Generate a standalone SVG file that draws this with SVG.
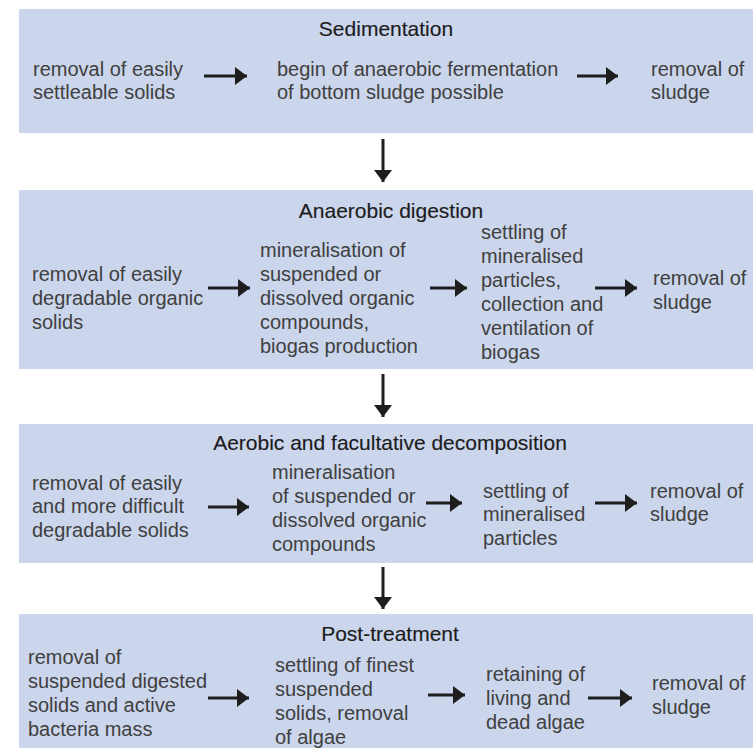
<svg xmlns="http://www.w3.org/2000/svg" width="753" height="748" viewBox="0 0 753 748">
<style>
.box{fill:#cbd6ec}
text{font-family:"Liberation Sans",Arial,sans-serif;font-size:20px;fill:#404040}
.t{font-size:21px;fill:#1c1c1c;stroke:#1c1c1c;stroke-width:0.15;text-anchor:middle}
.c{stroke:#1e1e1e;stroke-width:3;fill:none}
</style>
<defs>
<marker id="ah" viewBox="0 0 12 18" refX="12" refY="9" markerWidth="12" markerHeight="18" markerUnits="userSpaceOnUse" orient="auto">
<path d="M0,0 L12,9 L0,18 Z" fill="#1e1e1e"/>
</marker>
</defs>
<g id="sedimentation">
<rect class="box" x="19" y="9" width="734" height="124"/>
<text class="t" x="386" y="36">Sedimentation</text>
<text x="33" y="76">removal of easily</text>
<text x="33" y="99">settleable solids</text>
<text x="277" y="76">begin of anaerobic fermentation</text>
<text x="277" y="99">of bottom sludge possible</text>
<text x="651" y="76">removal of</text>
<text x="651" y="99">sludge</text>
</g>
<g id="anaerobic">
<rect class="box" x="19" y="190" width="734" height="179"/>
<text class="t" x="391" y="218">Anaerobic digestion</text>
<text x="32" y="281">removal of easily</text>
<text x="32" y="305">degradable organic</text>
<text x="32" y="329">solids</text>
<text x="260" y="257">mineralisation of</text>
<text x="260" y="281">suspended or</text>
<text x="260" y="305">dissolved organic</text>
<text x="260" y="329">compounds,</text>
<text x="260" y="353">biogas production</text>
<text x="481" y="239">settling of</text>
<text x="481" y="263">mineralised</text>
<text x="481" y="287">particles,</text>
<text x="481" y="311">collection and</text>
<text x="481" y="335">ventilation of</text>
<text x="481" y="359">biogas</text>
<text x="653" y="285">removal of</text>
<text x="653" y="309">sludge</text>
</g>
<g id="aerobic">
<rect class="box" x="19" y="424" width="734" height="139"/>
<text class="t" x="390" y="450">Aerobic and facultative decomposition</text>
<text x="32" y="490">removal of easily</text>
<text x="32" y="513">and more difficult</text>
<text x="32" y="537">degradable solids</text>
<text x="272" y="479">mineralisation</text>
<text x="272" y="503">of suspended or</text>
<text x="272" y="527">dissolved organic</text>
<text x="272" y="551">compounds</text>
<text x="483" y="498">settling of</text>
<text x="483" y="521">mineralised</text>
<text x="483" y="545">particles</text>
<text x="650" y="498">removal of</text>
<text x="650" y="521">sludge</text>
</g>
<g id="post-treatment">
<rect class="box" x="19" y="614" width="734" height="134"/>
<text class="t" x="390" y="641">Post-treatment</text>
<text x="28" y="664">removal of</text>
<text x="28" y="688">suspended digested</text>
<text x="28" y="712">solids and active</text>
<text x="28" y="736">bacteria mass</text>
<text x="275" y="672">settling of finest</text>
<text x="275" y="696">suspended</text>
<text x="275" y="720">solids, removal</text>
<text x="275" y="744">of algae</text>
<text x="486" y="681">retaining of</text>
<text x="486" y="705">living and</text>
<text x="486" y="729">dead algae</text>
<text x="652" y="690">removal of</text>
<text x="652" y="714">sludge</text>
</g>
<g id="connectors">
<line class="c" x1="204" y1="76" x2="247" y2="76" marker-end="url(#ah)"/>
<line class="c" x1="577" y1="76" x2="618" y2="76" marker-end="url(#ah)"/>
<line class="c" x1="383" y1="139" x2="383" y2="182" marker-end="url(#ah)"/>
<line class="c" x1="208" y1="288" x2="250" y2="288" marker-end="url(#ah)"/>
<line class="c" x1="430" y1="288" x2="467" y2="288" marker-end="url(#ah)"/>
<line class="c" x1="595" y1="288" x2="637" y2="288" marker-end="url(#ah)"/>
<line class="c" x1="383" y1="374" x2="383" y2="417" marker-end="url(#ah)"/>
<line class="c" x1="208" y1="507" x2="249" y2="507" marker-end="url(#ah)"/>
<line class="c" x1="426" y1="503" x2="462" y2="503" marker-end="url(#ah)"/>
<line class="c" x1="595" y1="503" x2="637" y2="503" marker-end="url(#ah)"/>
<line class="c" x1="383" y1="567" x2="383" y2="609" marker-end="url(#ah)"/>
<line class="c" x1="208" y1="698" x2="249" y2="698" marker-end="url(#ah)"/>
<line class="c" x1="428" y1="695" x2="465" y2="695" marker-end="url(#ah)"/>
<line class="c" x1="588" y1="698" x2="632" y2="698" marker-end="url(#ah)"/>
</g>
</svg>
